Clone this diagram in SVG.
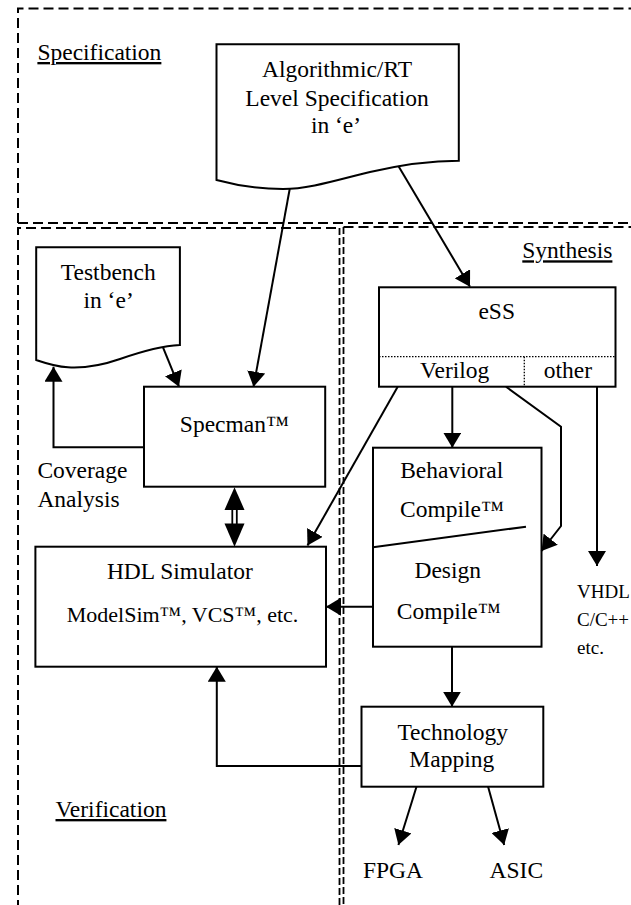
<svg xmlns="http://www.w3.org/2000/svg" width="631" height="905" viewBox="0 0 631 905">
<style>
.t{font-family:"Liberation Serif","Times New Roman",serif;font-size:23.5px;fill:#000}
.m{text-anchor:middle}
.u{text-decoration:underline}
.s{font-size:19px}
.box{fill:#fff;stroke:#000;stroke-width:2}
.reg{fill:none;stroke:#000;stroke-width:2;stroke-dasharray:10 5}
.regf{fill:none;stroke:#000;stroke-width:1.8;stroke-dasharray:7 3}
.c{fill:none;stroke:#000;stroke-width:2}
.dot{fill:none;stroke:#000;stroke-width:1.3;stroke-dasharray:1.5 1.5}
</style>
<defs>
<marker id="ah" markerUnits="userSpaceOnUse" markerWidth="16" markerHeight="18" refX="15" refY="9" orient="auto" viewBox="0 0 16 18">
<path d="M0,0 L15,9 L0,18 Z" fill="#000"/>
</marker>
</defs>
<rect width="631" height="905" fill="#fff"/>
<g id="regions">
<path class="reg" d="M18,223 V8.5 H640"/>
<path class="reg" d="M18,223 H640"/>
<path class="reg" d="M18,910 V228 H339.5"/>
<path class="regf" d="M339.5,228 V910"/>
<path class="reg" d="M343.5,227 H640"/>
<path class="regf" d="M343.5,227 V910"/>
<text class="t u" x="37.4" y="60">Specification</text>
<text class="t u" x="522.3" y="258.3">Synthesis</text>
<text class="t u" x="55.5" y="817">Verification</text>
</g>
<g id="spec">
<path class="box" d="M216.5,44.3 H458.8 V160.7 C430,160.7 400,165 370,172 C340,179 310,189 283,189 C260,189 235,185 216.5,180 Z"/>
<text class="t m" x="337" y="77.3">Algorithmic/RT</text>
<text class="t m" x="337" y="106">Level Specification</text>
<text class="t m" x="336" y="133.3">in ‘e’</text>
</g>
<g id="testbench">
<path class="box" d="M36.2,247.3 H179.9 V345 C160,346 140,352 120,359 C100,366 80,368 68,367.3 C55,366.5 45,363 36.2,360 Z"/>
<text class="t m" x="108.3" y="280">Testbench</text>
<text class="t m" x="108.6" y="308.3">in ‘e’</text>
</g>
<g id="specman">
<rect class="box" x="144" y="386.7" width="181.2" height="100"/>
<text class="t m" x="234.4" y="431.7">Specman™</text>
</g>
<g id="coverage">
<text class="t" x="37.4" y="478.3">Coverage</text>
<text class="t" x="37.4" y="507">Analysis</text>
</g>
<g id="ess">
<rect class="box" x="379" y="287.3" width="236.5" height="99.4"/>
<line class="dot" x1="379" y1="356.7" x2="615.5" y2="356.7"/>
<line class="dot" x1="524.3" y1="356.7" x2="524.3" y2="386.7"/>
<text class="t m" x="496.7" y="319.3">eSS</text>
<text class="t m" x="454.7" y="378.3">Verilog</text>
<text class="t m" x="568" y="378.3">other</text>
</g>
<g id="compile">
<rect class="box" x="373" y="447.7" width="168.5" height="199"/>
<line class="c" x1="373" y1="547.3" x2="526" y2="526.7"/>
<text class="t m" x="451.7" y="478">Behavioral</text>
<text class="t m" x="452" y="517.3">Compile™</text>
<text class="t m" x="447.7" y="578.3">Design</text>
<text class="t m" x="448.7" y="619.3">Compile™</text>
</g>
<g id="hdl">
<rect class="box" x="35.4" y="546.7" width="290.6" height="120"/>
<text class="t m" x="179.9" y="579.3">HDL Simulator</text>
<text class="t m" x="182.5" y="621.7" style="font-size:22px">ModelSim™, VCS™, etc.</text>
</g>
<g id="tech">
<rect class="box" x="361.5" y="706.7" width="181.8" height="80"/>
<text class="t m" x="452.7" y="740">Technology</text>
<text class="t m" x="451.8" y="767.3">Mapping</text>
</g>
<g id="outputs">
<text class="t s" x="577" y="598">VHDL</text>
<text class="t s" x="577" y="626">C/C++</text>
<text class="t s" x="577" y="654">etc.</text>
<text class="t m" x="393" y="878">FPGA</text>
<text class="t m" x="516.3" y="878">ASIC</text>
</g>
<g id="connectors">
<line class="c" x1="289.7" y1="189" x2="253.5" y2="386.7" marker-end="url(#ah)"/>
<line class="c" x1="398.4" y1="166" x2="470" y2="286.7" marker-end="url(#ah)"/>
<line class="c" x1="163" y1="347.3" x2="179" y2="386.7" marker-end="url(#ah)"/>
<polyline class="c" points="144,447.3 53.5,447.3 53.5,366.7" marker-end="url(#ah)"/>
<polygon points="234.5,487.3 224.5,510 244.5,510" fill="#000"/>
<polygon points="234.5,546.7 224.5,523.5 244.5,523.5" fill="#000"/>
<line x1="232.3" y1="509" x2="232.3" y2="524.5" stroke="#000" stroke-width="1.8"/>
<line x1="236.8" y1="509" x2="236.8" y2="524.5" stroke="#000" stroke-width="1.8"/>
<line class="c" x1="397.7" y1="386.7" x2="307.5" y2="545.5" marker-end="url(#ah)"/>
<line class="c" x1="452.3" y1="386.7" x2="452.3" y2="447.7" marker-end="url(#ah)"/>
<polyline class="c" points="506,386.7 561,426.7 561,526 541.5,551" marker-end="url(#ah)"/>
<line class="c" x1="597" y1="386.7" x2="597" y2="566" marker-end="url(#ah)"/>
<line class="c" x1="373" y1="606.7" x2="326" y2="606.7" marker-end="url(#ah)"/>
<line class="c" x1="452" y1="646.7" x2="452" y2="706.7" marker-end="url(#ah)"/>
<polyline class="c" points="361.5,766 216.8,766 216.8,666.7" marker-end="url(#ah)"/>
<line class="c" x1="416.5" y1="786.7" x2="398.4" y2="845" marker-end="url(#ah)"/>
<line class="c" x1="488.1" y1="786.7" x2="504.2" y2="845" marker-end="url(#ah)"/>
</g>
</svg>
